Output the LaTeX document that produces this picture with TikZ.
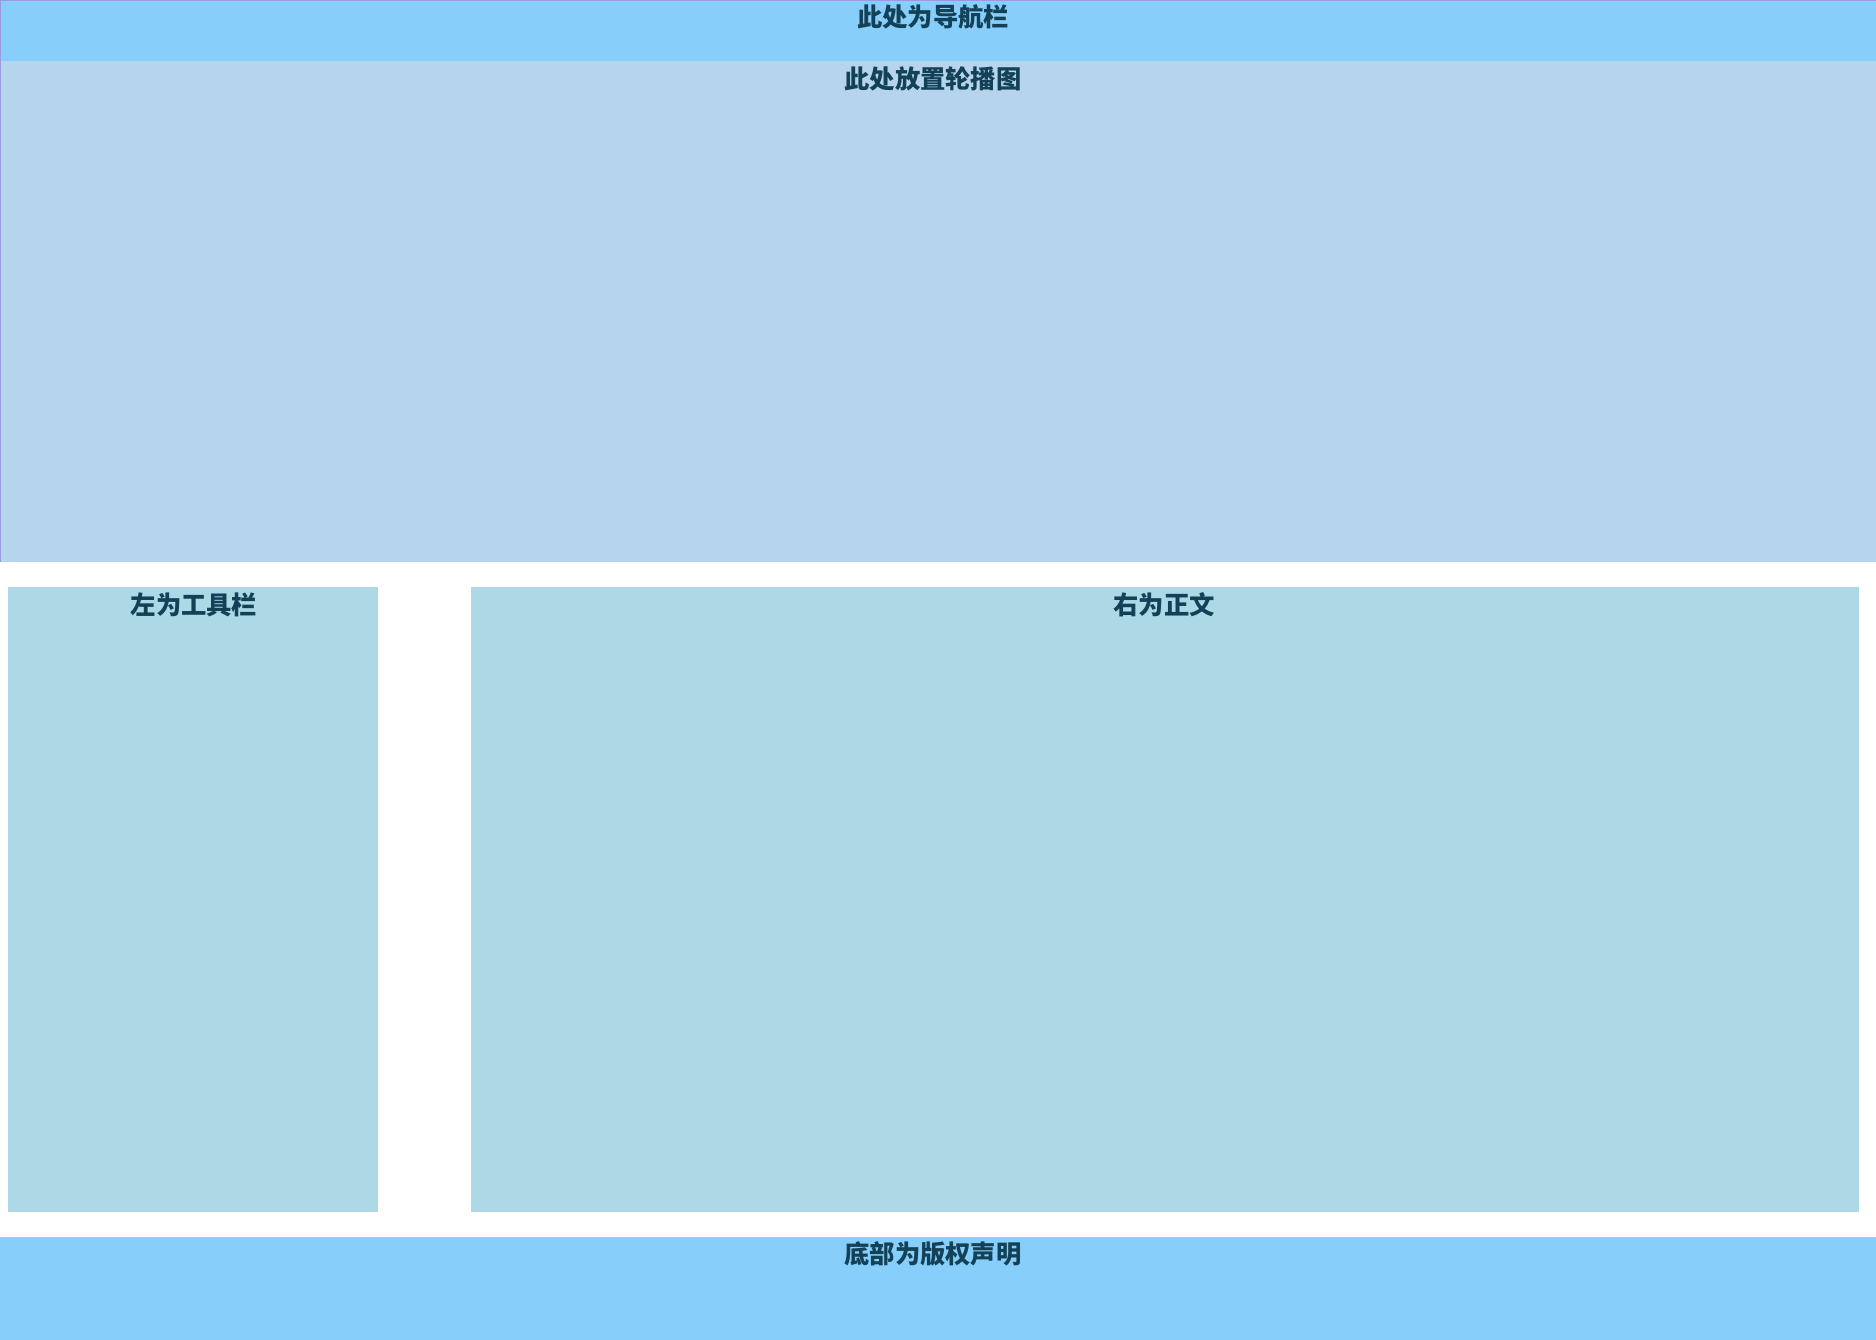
\documentclass[tikz,border=0pt]{standalone}
\usepackage{fontspec}
\newfontfamily\cjk{Noto Sans CJK SC}
\usetikzlibrary{positioning}
\definecolor{navblue}{HTML}{87CEFA}
\definecolor{bannerblue}{HTML}{B6D4EC}
\definecolor{colblue}{HTML}{ADD8E6}
\definecolor{edgepurple}{HTML}{9A9AE0}
\definecolor{titleink}{HTML}{134157}

\begin{document}
\begin{tikzpicture}[x=0.01cm,y=-0.01cm]
    \tikzset{area/.style={inner sep=0pt, outer sep=0pt, anchor=north west},
             title/.style={inner sep=0pt, font=\cjk\bfseries\fontsize{7.2pt}{8pt}\selectfont, text=titleink}}
    \useasboundingbox (0,0) rectangle (1876,1339);
    \fill [white] (0,0) rectangle (1876,1339);
    % page areas
    \node [area, fill=navblue, minimum width=18.78cm, minimum height=0.61cm] (nav) at (0,0) {};
    \node [area, fill=bannerblue, minimum width=18.78cm, minimum height=5.01cm] (banner) at (0,61) {};
    \node [area, fill=colblue, minimum width=3.70cm, minimum height=6.25cm] (tools) at (8,587) {};
    \node [area, fill=colblue, minimum width=13.87cm, minimum height=6.25cm] (body) at (471,587) {};
    \node [area, fill=navblue, minimum width=18.78cm, minimum height=1.05cm] (foot) at (0,1237) {};
    % thin outline on the top bars
    \draw [edgepurple, line width=0.3pt] (banner.south west) -- (nav.north west) -- (nav.north east);
    % titles
    \node [title] (navtitle) at (933,17) {此处为导航栏};
    \node [title] (bannertitle) at (933,79) {此处放置轮播图};
    \node [title] (toolstitle) at (194,605) {左为工具栏};
    \node [title] (bodytitle) at (1164,605) {右为正文};
    \node [title] (foottitle) at (933,1254) {底部为版权声明};
\end{tikzpicture}
\end{document}
